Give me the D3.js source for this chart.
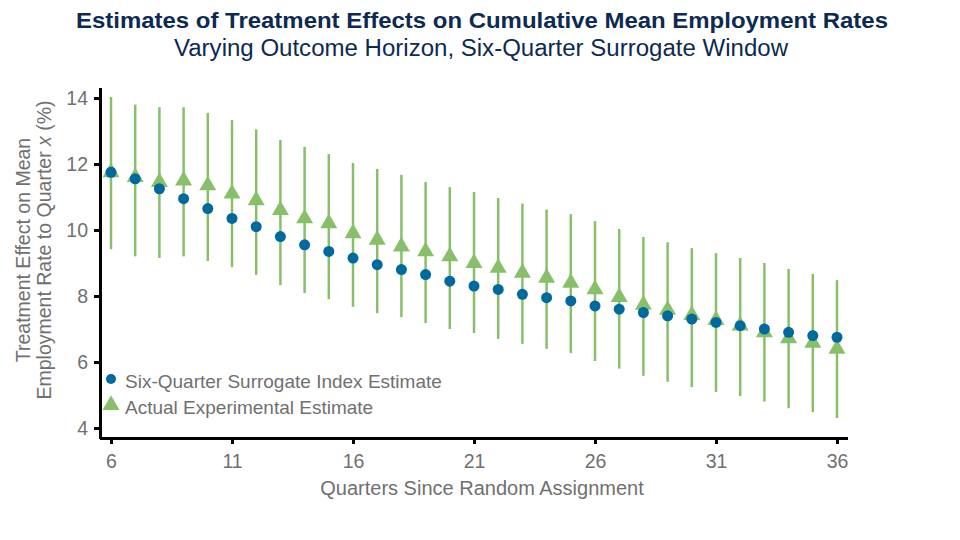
<!DOCTYPE html>
<html>
<head>
<meta charset="utf-8">
<script src="https://cdn.jsdelivr.net/npm/d3@7"></script>
<style>
  body { margin: 0; background: #fff; }
  svg { font-family: "Liberation Sans", Arial, sans-serif; }
</style>
</head>
<body>
<div class="datavis"><svg></svg></div>
<script>
const width = 960
const height = 540

// quarters since random assignment
const quarters = d3.range(6, 37)
// six-quarter surrogate index estimate
const surrogate = [11.75, 11.55, 11.25, 10.95, 10.65, 10.35, 10.1, 9.8, 9.55, 9.35,
  9.15, 8.95, 8.8, 8.65, 8.45, 8.3, 8.2, 8.05, 7.95, 7.85,
  7.7, 7.6, 7.5, 7.4, 7.3, 7.2, 7.1, 7.0, 6.9, 6.8, 6.75]
// actual experimental estimate
const actual = [11.75, 11.6, 11.45, 11.5, 11.35, 11.1, 10.9, 10.6, 10.35, 10.2,
  9.9, 9.7, 9.5, 9.35, 9.2, 9.0, 8.85, 8.7, 8.55, 8.4,
  8.2, 7.97, 7.73, 7.58, 7.42, 7.27, 7.1, 6.9, 6.72, 6.58, 6.4]
const ciHigh = [14.03, 13.8, 13.72, 13.72, 13.55, 13.33, 13.05, 12.73, 12.52, 12.3,
  12.03, 11.85, 11.67, 11.45, 11.3, 11.15, 10.97, 10.8, 10.62, 10.48,
  10.27, 10.03, 9.79, 9.63, 9.45, 9.3, 9.15, 9.0, 8.82, 8.67, 8.48]
const ciLow = [9.42, 9.2, 9.15, 9.2, 9.06, 8.88, 8.64, 8.33, 8.09, 7.9,
  7.67, 7.48, 7.36, 7.18, 7.0, 6.88, 6.7, 6.55, 6.4, 6.27,
  6.03, 5.8, 5.58, 5.4, 5.24, 5.09, 4.97, 4.8, 4.6, 4.48, 4.3]

const xTicks = [6, 11, 16, 21, 26, 31, 36]
const yTicks = [4, 6, 8, 10, 12, 14]

const blue = "#006a9e"
const green = "#88c06a"
const grey = "#707070"
const navy = "#0c2a52"

var margin = { top: 98, right: 123, bottom: 102, left: 100 }

const data = quarters.map((q, i) => ({
  q: q, s: surrogate[i], a: actual[i], hi: ciHigh[i], lo: ciLow[i]
}))

const x = d3.scaleLinear()
  .domain([6, 36])
  .range([111, 837])
const y = d3.scaleLinear()
  .domain([4, 14])
  .range([428, 98])

const svg = d3.select(".datavis > svg")
  .attr("width", width)
  .attr("height", height)
  .attr("viewBox", [0, 0, width, height])

// titles (the original type is a bit wider than Liberation, so stretch to fit)
svg.append("text")
  .attr("x", 482).attr("y", 28)
  .attr("text-anchor", "middle")
  .attr("fill", navy)
  .attr("font-weight", "bold")
  .attr("font-size", 22)
  .attr("textLength", 812)
  .attr("lengthAdjust", "spacingAndGlyphs")
  .text("Estimates of Treatment Effects on Cumulative Mean Employment Rates")
svg.append("text")
  .attr("x", 481).attr("y", 56)
  .attr("text-anchor", "middle")
  .attr("fill", navy)
  .attr("font-size", 23)
  .attr("textLength", 614)
  .attr("lengthAdjust", "spacingAndGlyphs")
  .text("Varying Outcome Horizon, Six-Quarter Surrogate Window")

// error bars
svg.append("g").attr("class", "ci")
  .selectAll("line")
  .data(data)
  .join("line")
  .attr("x1", d => x(d.q)).attr("x2", d => x(d.q))
  .attr("y1", d => y(d.hi)).attr("y2", d => y(d.lo))
  .attr("stroke", green)
  .attr("stroke-width", 2.5)

// triangles (actual)
const tri = d3.symbol().type(d3.symbolTriangle).size(125)
svg.append("g").attr("class", "actual")
  .selectAll("path")
  .data(data)
  .join("path")
  .attr("d", tri)
  .attr("transform", d => `translate(${x(d.q)},${y(d.a)})`)
  .attr("fill", green)

// dots (surrogate)
svg.append("g").attr("class", "surrogate")
  .selectAll("circle")
  .data(data)
  .join("circle")
  .attr("cx", d => x(d.q))
  .attr("cy", d => y(d.s))
  .attr("r", 5.5)
  .attr("fill", blue)

// axes
const xAxis = g => g
  .attr("transform", `translate(0,438)`)
  .call(d3.axisBottom(x).tickValues(xTicks).tickSize(6).tickSizeOuter(0))
const yAxis = g => g
  .attr("transform", `translate(${margin.left},0)`)
  .call(d3.axisLeft(y).tickValues(yTicks).tickSize(6).tickSizeOuter(0))

svg.append("g").attr("class", "xaxis").call(xAxis)
svg.append("g").attr("class", "yaxis").call(yAxis)

svg.select(".xaxis .domain").attr("d", "M100,0.5H848").attr("stroke-width", 3)
svg.select(".yaxis .domain").attr("d", "M0.5,88V439").attr("stroke-width", 3)
svg.selectAll(".xaxis .tick line, .yaxis .tick line").attr("stroke-width", 3)
svg.selectAll(".xaxis text, .yaxis text")
  .attr("fill", grey)
  .attr("font-size", 19.5)
  .attr("font-family", "Liberation Sans, Arial, sans-serif")
svg.selectAll(".xaxis text").attr("dy", "1.1em")
svg.selectAll(".yaxis text").attr("x", -12)

// axis labels
svg.append("text")
  .attr("x", 482).attr("y", 495)
  .attr("text-anchor", "middle")
  .attr("fill", grey)
  .attr("font-size", 20)
  .text("Quarters Since Random Assignment")

const yl = svg.append("text")
  .attr("transform", "translate(30,250) rotate(-90)")
  .attr("text-anchor", "middle")
  .attr("fill", grey)
  .attr("font-size", 19.5)
yl.append("tspan").attr("x", 0).attr("dy", 0).text("Treatment Effect on Mean")
const l2 = yl.append("tspan").attr("x", 0).attr("dy", 21)
l2.append("tspan").text("Employment Rate to Quarter ")
l2.append("tspan").attr("font-style", "italic").text("x")
l2.append("tspan").text(" (%)")

// legend
const leg = svg.append("g").attr("class", "legend")
leg.append("circle").attr("cx", 111).attr("cy", 379).attr("r", 5).attr("fill", blue)
leg.append("path").attr("d", tri).attr("transform", "translate(111,405)").attr("fill", green)
leg.append("text").attr("x", 125).attr("y", 388).attr("fill", grey).attr("font-size", 19)
  .text("Six-Quarter Surrogate Index Estimate")
leg.append("text").attr("x", 125).attr("y", 414).attr("fill", grey).attr("font-size", 19)
  .text("Actual Experimental Estimate")
</script>
</body>
</html>
